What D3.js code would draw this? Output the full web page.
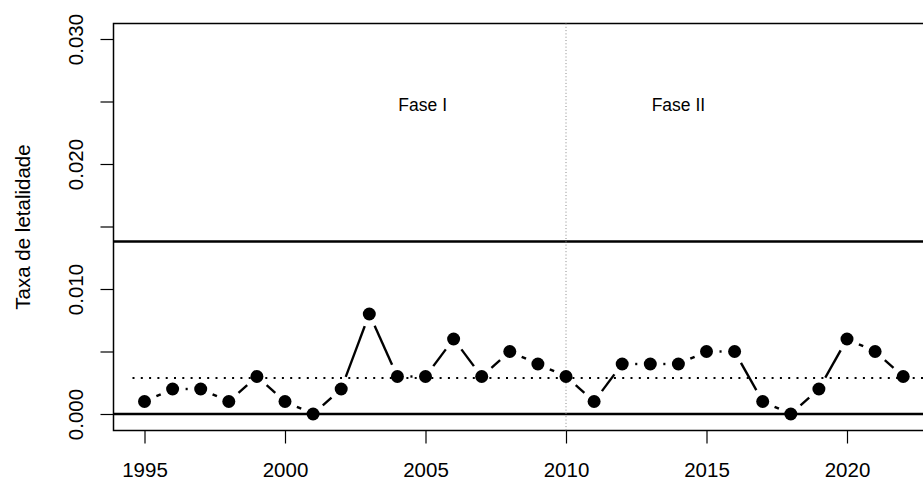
<!DOCTYPE html>
<html>
<head>
<meta charset="utf-8">
<script src="https://cdn.jsdelivr.net/npm/d3@7"></script>
<style>
  html, body { margin: 0; padding: 0; background: #fff; }
  svg { display: block; font-family: "Liberation Sans", Arial, Helvetica, sans-serif; }
</style>
</head>
<body>
<svg id="chart" width="923" height="482"></svg>
<script>
// ---- data ----
const years = [1995,1996,1997,1998,1999,2000,2001,2002,2003,2004,2005,2006,2007,2008,2009,2010,2011,2012,2013,2014,2015,2016,2017,2018,2019,2020,2021,2022];
const rates = [0.001,0.002,0.002,0.001,0.003,0.001,0.000,0.002,0.008,0.003,0.003,0.006,0.003,0.005,0.004,0.003,0.001,0.004,0.004,0.004,0.005,0.005,0.001,0.000,0.002,0.006,0.005,0.003];
const xTicks = [1995, 2000, 2005, 2010, 2015, 2020];
const yTicks = [0.000, 0.005, 0.010, 0.015, 0.020, 0.025, 0.030];
const yLabels = ["0.000", "", "0.010", "", "0.020", "", "0.030"];
const ucl = 0.0138;
const centerLine = 0.00288;
const lcl = 0;
const phaseBreak = 2010;
const phaseLabels = [{text: "Fase I", year: 2004.9}, {text: "Fase II", year: 2014.0}];
const phaseLabelValue = 0.0247;
const yTitle = "Taxa de letalidade";

// ---- layout ----
const svg = d3.select("#chart");
const box = {left: 113.5, top: 23.5, bottom: 430.5, right: 945};
const x = d3.scaleLinear().domain([1995, 2010]).range([144.5, 566]);
const y = d3.scaleLinear().domain([0, 0.03]).range([414, 39]);
const fs = 20.5;

// plot box
svg.append("rect")
  .attr("x", box.left).attr("y", box.top)
  .attr("width", box.right - box.left).attr("height", box.bottom - box.top)
  .attr("fill", "none").attr("stroke", "#000").attr("stroke-width", 1.5);

// y axis
const yAxis = d3.axisLeft(y).tickValues(yTicks).tickSize(13).tickPadding(0)
  .tickFormat((d, i) => yLabels[i]);
const gy = svg.append("g").attr("transform", `translate(${box.left},0)`).call(yAxis);
gy.select(".domain").remove();
gy.selectAll(".tick line").attr("stroke", "#000").attr("stroke-width", 1.2);
gy.selectAll(".tick text")
  .attr("transform", "rotate(-90)")
  .attr("x", 0).attr("y", -30.5)
  .attr("dy", 0)
  .attr("text-anchor", "middle")
  .style("font-size", fs + "px")
  .style("font-family", "Liberation Sans, Arial, sans-serif")
  .attr("fill", "#000");

// x axis
const xAxis = d3.axisBottom(x).tickValues(xTicks).tickSize(13).tickPadding(0)
  .tickFormat(d3.format("d"));
const gx = svg.append("g").attr("transform", `translate(0,${box.bottom})`).call(xAxis);
gx.select(".domain").remove();
gx.selectAll(".tick line").attr("stroke", "#000").attr("stroke-width", 1.2);
gx.selectAll(".tick text")
  .attr("y", 46.5).attr("dy", 0)
  .style("font-size", fs + "px")
  .style("font-family", "Liberation Sans, Arial, sans-serif")
  .attr("fill", "#000");

// y title
svg.append("text")
  .attr("transform", `translate(30,${(box.top + box.bottom) / 2}) rotate(-90)`)
  .attr("text-anchor", "middle")
  .style("font-size", fs + "px")
  .text(yTitle);

// control limits
svg.append("line")
  .attr("x1", box.left).attr("x2", box.right)
  .attr("y1", y(ucl)).attr("y2", y(ucl))
  .attr("stroke", "#000").attr("stroke-width", 2.6);
svg.append("line")
  .attr("x1", box.left).attr("x2", box.right)
  .attr("y1", y(lcl)).attr("y2", y(lcl))
  .attr("stroke", "#000").attr("stroke-width", 2.6);
svg.append("line")
  .attr("x1", box.left + 19).attr("x2", box.right)
  .attr("y1", y(centerLine)).attr("y2", y(centerLine))
  .attr("stroke", "#000").attr("stroke-width", 2)
  .attr("stroke-dasharray", "2,6.3");

// phase separator
svg.append("line")
  .attr("x1", x(phaseBreak)).attr("x2", x(phaseBreak))
  .attr("y1", box.top).attr("y2", box.bottom)
  .attr("stroke", "#888").attr("stroke-width", 1)
  .attr("stroke-dasharray", "1,2.3");

// phase labels
svg.selectAll("text.phase").data(phaseLabels).enter().append("text")
  .attr("class", "phase")
  .attr("x", d => x(d.year)).attr("y", y(phaseLabelValue))
  .attr("text-anchor", "middle")
  .attr("dominant-baseline", "central")
  .style("font-size", "17.5px")
  .text(d => d.text);

// connecting segments with gaps around points (type = "b")
const pts = years.map((yr, i) => ({px: x(yr), py: y(rates[i])}));
const gap = 13;
const segs = [];
for (let i = 0; i < pts.length - 1; i++) {
  const a = pts[i], b = pts[i + 1];
  const dx = b.px - a.px, dy = b.py - a.py;
  const len = Math.hypot(dx, dy);
  if (len <= 2 * gap) continue;
  const ux = dx / len, uy = dy / len;
  segs.push({x1: a.px + ux * gap, y1: a.py + uy * gap, x2: b.px - ux * gap, y2: b.py - uy * gap});
}
svg.selectAll("line.seg").data(segs).enter().append("line")
  .attr("class", "seg")
  .attr("x1", d => d.x1).attr("y1", d => d.y1)
  .attr("x2", d => d.x2).attr("y2", d => d.y2)
  .attr("stroke", "#000").attr("stroke-width", 2.4);

// points
svg.selectAll("circle.pt").data(years).enter().append("circle")
  .attr("class", "pt")
  .attr("cx", (d) => x(d))
  .attr("cy", (d, i) => y(rates[i]))
  .attr("r", 6.5)
  .attr("fill", "#000");
</script>
</body>
</html>
